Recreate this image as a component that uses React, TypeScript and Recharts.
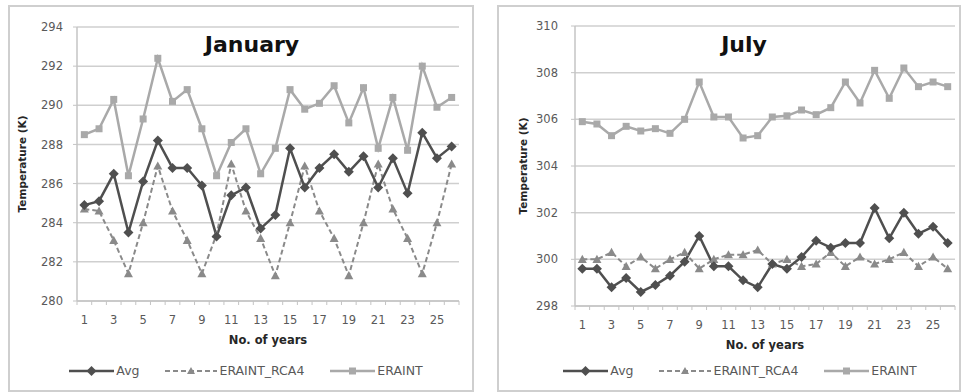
import React from 'react'
import { LineChart, Line, XAxis, YAxis, CartesianGrid } from 'recharts'

// years on the x axis
const years = [1, 2, 3, 4, 5, 6, 7, 8, 9, 10, 11, 12, 13, 14, 15, 16, 17, 18, 19, 20, 21, 22, 23, 24, 25, 26]

// January (K)
const janAvg = [284.9, 285.1, 286.5, 283.5, 286.1, 288.2, 286.8, 286.8, 285.9, 283.3, 285.4, 285.8, 283.7, 284.4, 287.8, 285.8, 286.8, 287.5, 286.6, 287.4, 285.8, 287.3, 285.5, 288.6, 287.3, 287.9]
const janRca4 = [284.7, 284.6, 283.1, 281.4, 284.0, 286.9, 284.6, 283.1, 281.4, 283.4, 287.0, 284.6, 283.2, 281.3, 284.0, 286.9, 284.6, 283.2, 281.3, 284.0, 287.0, 284.7, 283.2, 281.4, 284.0, 287.0]
const janEraint = [288.5, 288.8, 290.3, 286.4, 289.3, 292.4, 290.2, 290.8, 288.8, 286.4, 288.1, 288.8, 286.5, 287.8, 290.8, 289.8, 290.1, 291.0, 289.1, 290.9, 287.8, 290.4, 287.7, 292.0, 289.9, 290.4]
const janTicks = [280, 282, 284, 286, 288, 290, 292, 294]

// July (K)
const julAvg = [299.6, 299.6, 298.8, 299.2, 298.6, 298.9, 299.3, 299.9, 301.0, 299.7, 299.7, 299.1, 298.8, 299.8, 299.6, 300.1, 300.8, 300.5, 300.7, 300.7, 302.2, 300.9, 302.0, 301.1, 301.4, 300.7]
const julRca4 = [300.0, 300.0, 300.3, 299.7, 300.1, 299.6, 300.0, 300.3, 299.6, 300.0, 300.2, 300.2, 300.4, 299.8, 300.0, 299.7, 299.8, 300.3, 299.7, 300.1, 299.8, 300.0, 300.3, 299.7, 300.1, 299.6]
const julEraint = [305.9, 305.8, 305.3, 305.7, 305.5, 305.6, 305.4, 306.0, 307.6, 306.1, 306.1, 305.2, 305.3, 306.1, 306.15, 306.4, 306.2, 306.5, 307.6, 306.7, 308.1, 306.9, 308.2, 307.4, 307.6, 307.4]
const julTicks = [298, 300, 302, 304, 306, 308, 310]

const seriesNames = ['Avg', 'ERAINT_RCA4', 'ERAINT']

const FONT = '"DejaVu Sans", sans-serif'
const C_AVG = '#4f4f4f'
const C_RCA = '#8a8a8a'
const C_ERA = '#a9a9a9'

function build(avg: number[], rca: number[], era: number[]) {
  return years.map((y, i) => ({ year: y, avg: avg[i], rca4: rca[i], eraint: era[i] }))
}

const Diamond = (p: any) => {
  const { cx, cy } = p
  if (cx == null || cy == null) return <g key={`d${p.index}`} />
  const r = 5
  return <path key={`d${p.index}`} d={`M${cx},${cy - r}L${cx + r},${cy}L${cx},${cy + r}L${cx - r},${cy}Z`} fill={C_AVG} />
}

const Triangle = (p: any) => {
  const { cx, cy } = p
  if (cx == null || cy == null) return <g key={`t${p.index}`} />
  const r = 4.5
  return <path key={`t${p.index}`} d={`M${cx},${cy - r}L${cx + r},${cy + r * 0.8}L${cx - r},${cy + r * 0.8}Z`} fill={C_RCA} />
}

const Square = (p: any) => {
  const { cx, cy } = p
  if (cx == null || cy == null) return <g key={`s${p.index}`} />
  return <rect key={`s${p.index}`} x={cx - 3.5} y={cy - 3.5} width={7} height={7} fill={C_ERA} />
}

// category labels on odd years plus Excel-style ticks between categories
const YearTick = (p: any) => {
  const { x, y, payload, index, width, visibleTicksCount } = p
  const band = width && visibleTicksCount ? width / visibleTicksCount : 14.65
  const half = band / 2
  return (
    <g>
      <line x1={x + half} x2={x + half} y1={y} y2={y + 4} stroke="#c4c4c4" />
      {index === 0 && <line x1={x - half} x2={x - half} y1={y} y2={y + 4} stroke="#c4c4c4" />}
      {payload.value % 2 === 1 && (
        <text x={x} y={y + 23} textAnchor="middle" fill="#595959" fontSize={11.5} fontFamily={FONT}>
          {payload.value}
        </text>
      )}
    </g>
  )
}

function LegendIcon({ kind }: { kind: number }) {
  const w = kind === 1 ? 52 : 45
  const mid = w / 2
  return (
    <svg width={w} height={12} style={{ display: 'block' }}>
      {kind === 0 && (
        <>
          <line x1={0} x2={w} y1={6} y2={6} stroke={C_AVG} strokeWidth={2.5} />
          <path d={`M${mid},1L${mid + 5},6L${mid},11L${mid - 5},6Z`} fill={C_AVG} />
        </>
      )}
      {kind === 1 && (
        <>
          <line x1={0} x2={w} y1={6} y2={6} stroke={C_RCA} strokeWidth={2} strokeDasharray="5 3" />
          <path d={`M${mid},2L${mid + 4},9L${mid - 4},9Z`} fill={C_RCA} />
        </>
      )}
      {kind === 2 && (
        <>
          <line x1={0} x2={w} y1={6} y2={6} stroke={C_ERA} strokeWidth={2.5} />
          <rect x={mid - 3.5} y={2.5} width={7} height={7} fill={C_ERA} />
        </>
      )}
    </svg>
  )
}

interface PanelProps {
  left: number
  width: number
  title: string
  titleCenter: number
  data: { year: number; avg: number; rca4: number; eraint: number }[]
  domain: [number, number]
  ticks: number[]
  margin: { top: number; right: number; bottom: number; left: number }
  yAxisWidth: number
  yTickMargin: number
  yLabelOffset: number
  legendCenter: number
}

function Panel(props: PanelProps) {
  const { left, width, title, titleCenter, data, domain, ticks, margin, yAxisWidth, yTickMargin, yLabelOffset, legendCenter } = props
  return (
    <>
      <div
        style={{
          position: 'absolute',
          left,
          top: 5,
          width,
          height: 387,
          border: '2px solid #cfcfcf',
          boxSizing: 'border-box',
        }}
      >
        <LineChart width={width - 4} height={381} data={data} margin={margin}>
          <CartesianGrid vertical={false} stroke="#cfcfcf" strokeWidth={1.5} />
          <XAxis
            dataKey="year"
            scale="band"
            interval={0}
            tickSize={0}
            tickMargin={0}
            height={50}
            axisLine={{ stroke: '#c4c4c4', strokeWidth: 1.5 }}
            tick={<YearTick />}
            label={{ value: 'No. of years', position: 'insideBottom', offset: 7, fill: '#262626', fontSize: 11.5, fontWeight: 700, fontFamily: FONT }}
          />
          <YAxis
            domain={domain}
            ticks={ticks}
            interval={0}
            width={yAxisWidth}
            tickSize={4}
            tickMargin={yTickMargin}
            axisLine={{ stroke: '#c4c4c4', strokeWidth: 1.5 }}
            tickLine={{ stroke: '#c4c4c4' }}
            tick={{ fill: '#595959', fontSize: 11.5, fontFamily: FONT }}
            label={{
              value: 'Temperature (K)',
              angle: -90,
              position: 'insideLeft',
              offset: yLabelOffset,
              fill: '#262626',
              fontSize: 10.5,
              fontWeight: 700,
              fontFamily: FONT,
              style: { textAnchor: 'middle' },
            }}
          />
          <Line dataKey="rca4" name={seriesNames[1]} stroke={C_RCA} strokeWidth={2} strokeDasharray="5 3" dot={Triangle} activeDot={false} isAnimationActive={false} />
          <Line dataKey="eraint" name={seriesNames[2]} stroke={C_ERA} strokeWidth={2.5} dot={Square} activeDot={false} isAnimationActive={false} />
          <Line dataKey="avg" name={seriesNames[0]} stroke={C_AVG} strokeWidth={2.5} dot={Diamond} activeDot={false} isAnimationActive={false} />
        </LineChart>
      </div>
      <div
        style={{
          position: 'absolute',
          left: titleCenter - 100,
          width: 200,
          top: 32,
          textAlign: 'center',
          fontFamily: FONT,
          fontWeight: 700,
          fontSize: 22,
          color: '#111',
        }}
      >
        {title}
      </div>
      <div
        style={{
          position: 'absolute',
          left: legendCenter - 200,
          width: 400,
          top: 363,
          display: 'flex',
          justifyContent: 'center',
          alignItems: 'center',
          gap: 26,
          fontFamily: FONT,
          fontSize: 12.5,
          color: '#595959',
        }}
      >
        {seriesNames.map((n, i) => (
          <div key={n} style={{ display: 'flex', alignItems: 'center', gap: 2 }}>
            <LegendIcon kind={i} />
            <span>{n}</span>
          </div>
        ))}
      </div>
    </>
  )
}

export default function App() {
  return (
    <div style={{ position: 'absolute', left: 0, top: 0, width: 965, height: 392, background: '#fff', overflow: 'hidden' }}>
      <Panel
        left={8}
        width={466}
        title="January"
        titleCenter={252}
        data={build(janAvg, janRca4, janEraint)}
        domain={[280, 294]}
        ticks={janTicks}
        margin={{ top: 20, right: 13, bottom: 37, left: 0 }}
        yAxisWidth={67}
        yTickMargin={10}
        yLabelOffset={12}
        legendCenter={246}
      />
      <Panel
        left={497}
        width={464}
        title="July"
        titleCenter={744}
        data={build(julAvg, julRca4, julEraint)}
        domain={[298, 310]}
        ticks={julTicks}
        margin={{ top: 19, right: 4, bottom: 32, left: 0 }}
        yAxisWidth={76}
        yTickMargin={13}
        yLabelOffset={24}
        legendCenter={740}
      />
    </div>
  )
}
